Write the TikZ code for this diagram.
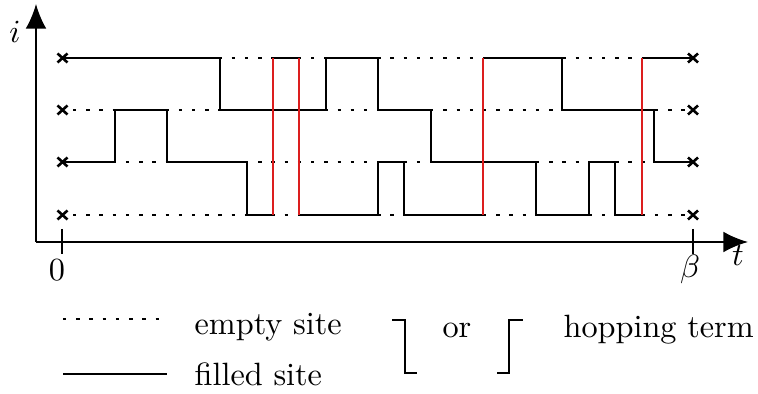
\documentclass[tikz,border=0pt]{standalone}
\usetikzlibrary{arrows.meta}
\definecolor{hopred}{RGB}{220,30,30}
\begin{document}
\begin{tikzpicture}[x=0.31pt,y=-0.31pt,
  axis/.style={line width=0.6pt},
  emptyline/.style={line width=0.5pt,dash pattern=on 1.05pt off 3.05pt},
  filledline/.style={line width=0.5pt},
  hopline/.style={line width=0.45pt,draw=hopred},
  crossmark/.style={line width=0.8pt},
  lab/.style={inner sep=0pt,anchor=base}]
\useasboundingbox (0,0) rectangle (758,394);
% axes
\coordinate (O) at (36,242);
\coordinate (ytip) at (36,4);
\coordinate (xtip) at (748,242);
\draw[axis,-{Latex[length=7.6pt,width=6.4pt]}] (O) -- (ytip);
\draw[axis,-{Latex[length=7.6pt,width=6.4pt]}] (O) -- (xtip);
\node[lab] (ilab) at (15,43) {$i$};
\node[lab] (tlab) at (738,266) {$t$};
% ticks
\coordinate (t0a) at (62,229); \coordinate (t0b) at (62,254);
\coordinate (tba) at (693,229); \coordinate (tbb) at (693,254);
\draw[axis] (t0a) -- (t0b);
\draw[axis] (tba) -- (tbb);
\node[lab] (zero) at (57,281) {$0$};
\node[lab] (beta) at (690,278) {$\beta$};
% site lines (empty)
\foreach \y in {58,110,162,215} {
  \draw[emptyline] (73,\y) -- (686,\y);
  \draw[crossmark] (57.5,\y-4.5) -- (67.5,\y+4.5) (57.5,\y+4.5) -- (67.5,\y-4.5);
  \draw[crossmark] (688,\y-4.5) -- (698,\y+4.5) (688,\y+4.5) -- (698,\y-4.5);
}
% world line A
\draw[filledline] (62,58) -- (220,58) -- (220,110) -- (326,110) -- (326,58) -- (378,58)
  -- (378,110) -- (431,110) -- (431,162) -- (536,162) -- (536,215) -- (589,215)
  -- (589,162) -- (615,162) -- (615,215) -- (642,215);
\draw[filledline] (642,58) -- (693,58);
% world line B
\draw[filledline] (62,162) -- (115,162) -- (115,110) -- (167,110) -- (167,162)
  -- (247,162) -- (247,215) -- (273,215);
\draw[filledline] (273,58) -- (299,58);
\draw[filledline] (299,215) -- (378,215) -- (378,162) -- (404,162) -- (404,215) -- (483,215);
\draw[filledline] (483,58) -- (562,58) -- (562,110) -- (654,110) -- (654,162) -- (693,162);
% hopping terms
\foreach \x in {273,299,483,642} {
  \draw[hopline] (\x,58) -- (\x,215);
}
% legend
\coordinate (le1) at (63,319); \coordinate (le2) at (159,319);
\coordinate (lf1) at (63,374); \coordinate (lf2) at (167,374);
\draw[emptyline] (le1) -- (le2);
\draw[filledline] (lf1) -- (lf2);
\node[inner sep=0pt,anchor=base west] (emptytxt) at (194,335) {empty site};
\node[inner sep=0pt,anchor=base west] (filledtxt) at (194,386) {filled site};
\draw[filledline] (392,320) -- (405,320) -- (405,373) -- (417,373);
\node[lab] (ortxt) at (457,338) {or};
\draw[filledline] (497,373) -- (509,373) -- (509,320) -- (523,320);
\node[inner sep=0pt,anchor=base west] (hoptxt) at (563,338) {hopping term};
\end{tikzpicture}
\end{document}
